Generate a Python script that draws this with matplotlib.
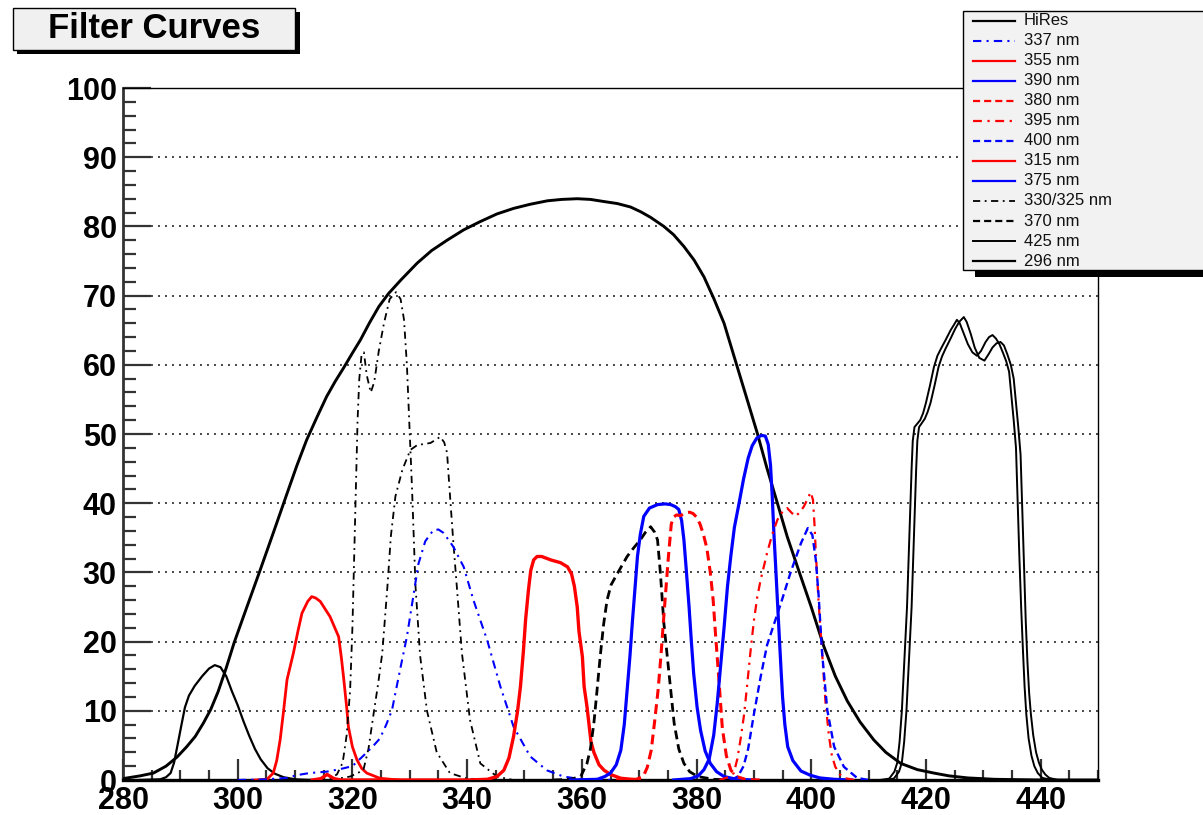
import numpy as np
import matplotlib
matplotlib.use('Agg')
import matplotlib.pyplot as plt
from matplotlib.lines import Line2D
from matplotlib.patches import Rectangle
from matplotlib.ticker import MultipleLocator

plt.rcParams['font.family'] = ['Liberation Sans', 'DejaVu Sans']

# ---------------- data (wavelength nm, transmission %) ----------------
hires_wl = [280, 283, 285.3, 287.5, 289.4, 291.1, 292.6, 294.0, 295.3, 296.6, 298.0, 299.4, 301.6, 303.9,
            306.2, 308.6, 310.3, 312.0, 313.8, 315.5, 317.0, 318.5, 320.0, 321.4, 323.0, 324.6, 326.3,
            328.5, 331.3, 333.8, 336.5, 339.4, 342.3, 345.2, 348.1, 351.0, 354.0, 356.5, 359.2, 361.5,
            363.8, 366.2, 368.5, 370.3, 372.0, 374.3, 376.0, 377.8, 379.6, 381.3, 383.0, 384.8, 387.1,
            389.0, 390.6, 392.3, 394.1, 395.8, 397.6, 400.0, 402.2, 404.2, 406.3, 408.5, 410.9, 413.0,
            415.6, 418.5, 421.4, 424.0, 427.3, 432.0, 440.0, 450.0]
hires_t = [0.2, 0.6, 1.0, 2.0, 3.3, 4.8, 6.3, 8.2, 10.2, 12.8, 16.2, 19.9, 25.0, 30.3,
           35.7, 41.4, 45.4, 49.1, 52.4, 55.4, 57.6, 59.6, 61.7, 63.6, 66.1, 68.4, 70.3,
           72.3, 74.7, 76.5, 78.0, 79.5, 80.7, 81.8, 82.6, 83.2, 83.7, 83.9, 84.0, 83.9,
           83.6, 83.3, 82.8, 82.1, 81.3, 80.0, 78.8, 77.1, 75.1, 72.7, 69.6, 66.0, 59.7,
           54.5, 50.1, 45.0, 40.0, 35.2, 30.8, 25.0, 19.3, 15.0, 11.4, 8.4, 5.8, 4.0,
           2.4, 1.5, 1.0, 0.6, 0.3, 0.1, 0.0, 0.0]

f296_wl = [283, 286.5, 287.5, 288.3, 288.9, 289.5, 290.2, 290.8, 291.5, 292.5, 293.8, 295.0, 296.0,
           297.0, 298.0, 299.0, 300.0, 301.0, 302.0, 303.0, 304.0, 305.2, 306.5, 308.0, 310.0, 313.0]
f296_t = [0, 0.1, 0.4, 1.0, 2.5, 5.0, 8.0, 10.5, 12.2, 13.6, 15.0, 16.1, 16.6,
          16.3, 15.0, 12.8, 10.8, 8.5, 6.4, 4.5, 3.0, 1.7, 0.9, 0.4, 0.1, 0]

f315_wl = [303, 305.1, 306.2, 306.8, 307.4, 308.0, 308.6, 309.7, 310.5, 311.2, 312.2, 312.9, 313.6,
           314.4, 316.1, 317.6, 318.1, 318.5, 319.0, 319.3, 320.0, 320.8, 321.6, 322.5, 324.8, 328]
f315_t = [0, 0.1, 1.0, 2.8, 5.8, 10.0, 14.5, 18.3, 21.5, 24.1, 25.8, 26.5, 26.3,
          25.8, 23.6, 20.7, 17.5, 14.5, 10.5, 7.7, 4.8, 2.9, 1.7, 1.0, 0.25, 0]

f325_wl = [314, 316.0, 317.3, 318.3, 319.0, 319.6, 320.0, 320.3, 320.6, 320.9, 321.2, 321.6, 322.0,
           322.5, 323.2, 323.8, 324.6, 325.5, 326.5, 327.6, 328.4, 329.0, 329.5, 329.9, 330.4,
           331.0, 331.8, 333.0, 334.7, 337.0, 340.0, 345.0]
f325_t = [0, 0.2, 0.8, 2.5, 6.5, 13.0, 22.0, 32.0, 42.0, 52.0, 58.0, 61.5, 61.8,
          58.5, 56.0, 57.5, 62.0, 66.0, 69.5, 70.5, 69.5, 66.5, 60.0, 52.0, 42.0,
          28.0, 18.0, 10.0, 4.0, 1.0, 0.2, 0]

f330_wl = [316, 319.6, 321.9, 322.8, 323.7, 324.5, 325.2, 326.1, 326.7, 327.5, 328.7, 330.1, 331.3,
           333.6, 334.6, 335.3, 336.0, 336.5, 337.1, 337.6, 338.2, 339.1, 340.5, 342.3, 345.2, 348]
f330_t = [0, 0.5, 1.4, 4.5, 9.6, 14.0, 18.3, 27.9, 35.2, 41.0, 44.8, 47.7, 48.4,
          48.7, 49.2, 49.6, 48.8, 47.3, 40.1, 34.3, 28.0, 18.3, 8.7, 2.4, 0.5, 0]

f337_wl = [300, 305.0, 308.6, 310.3, 312.5, 315.5, 318.0, 320.0, 321.9, 323.5, 324.8, 325.9, 326.9,
           328.3, 329.5, 330.7, 331.5, 332.7, 334.1, 335.0, 335.9, 337.6, 339.4, 341.1, 343.5,
           345.8, 348.1, 351.0, 353.9, 356.8, 360.0, 365.0]
f337_t = [0, 0.1, 0.3, 0.7, 1.0, 1.2, 1.6, 2.0, 3.5, 4.8, 6.0, 8.0, 10.1,
          15.9, 20.7, 27.0, 31.2, 34.5, 36.1, 36.2, 35.7, 33.7, 30.8, 26.0, 20.2,
          13.5, 7.7, 3.4, 1.4, 0.5, 0.1, 0]

f355_wl = [313, 314.5, 315.6, 316.8, 318, 340, 343.5, 345.2, 346.4, 347.3, 348.1, 348.8, 349.3, 349.8,
           350.2, 350.7, 351.1, 351.6, 352.2, 353.0, 354.6, 356.3, 357.5, 358.2, 358.7, 359.2,
           359.5, 360.1, 360.4, 360.9, 361.6, 362.1, 363.0, 363.9, 365.0, 366.8, 370]
f355_t = [0, 0.2, 0.8, 0.2, 0, 0, 0.1, 0.5, 1.4, 3.2, 6.3, 10.0, 13.5, 18.5,
          23.2, 27.5, 30.3, 31.8, 32.3, 32.3, 31.8, 31.4, 30.8, 29.8, 28.0, 25.0,
          21.5, 17.8, 13.5, 10.6, 5.5, 4.0, 2.2, 1.4, 0.8, 0.25, 0]

f370_wl = [355, 358, 359.8, 360.9, 361.5, 362.1, 362.6, 363.2, 363.8, 364.4, 365.1, 365.9, 367.0,
           367.9, 369.0, 370.2, 371.1, 372.0, 372.7, 373.2, 373.7, 374.3, 375.2, 376.1, 376.9,
           377.8, 378.8, 380.2, 383, 386]
f370_t = [0, 0.1, 0.5, 2.4, 4.5, 8.2, 12.5, 17.8, 22.5, 26.0, 28.2, 29.4, 31.0,
          32.3, 33.5, 34.7, 35.8, 36.6, 35.8, 34.7, 29.9, 22.7, 15.4, 8.2, 4.5,
          2.4, 1.2, 0.5, 0.1, 0]

f375_wl = [358, 362.7, 364.0, 365.0, 366.0, 366.8, 367.4, 367.9, 368.4, 368.8, 369.3, 369.7, 370.2,
           370.8, 371.8, 373.2, 374.5, 375.5, 376.3, 376.9, 377.4, 377.8, 378.2, 378.7, 379.1,
           379.5, 380.1, 380.7, 381.5, 382.4, 383.5, 384.8, 387, 390]
f375_t = [0, 0.1, 0.5, 1.0, 2.2, 4.3, 8.0, 13.0, 18.0, 22.7, 28.0, 32.3, 35.5,
          38.1, 39.3, 39.8, 39.9, 39.8, 39.5, 39.1, 37.5, 34.7, 30.5, 25.0, 20.0,
          15.4, 10.5, 7.2, 4.2, 2.4, 1.2, 0.5, 0.1, 0]

f380_wl = [366, 369.5, 370.7, 371.4, 372.1, 372.7, 373.3, 373.8, 374.2, 374.7, 375.1, 375.6, 376.0,
           376.5, 377.2, 378.0, 378.8, 379.4, 380.0, 380.6, 381.2, 381.8, 382.4, 382.9, 383.3,
           383.9, 384.5, 385.2, 386.0, 387.0, 388.5, 391]
f380_t = [0, 0.1, 0.5, 1.8, 4.3, 8.5, 13.0, 18.0, 22.6, 28.0, 32.3, 37.0, 38.0,
          38.3, 38.2, 38.6, 38.7, 38.5, 38.0, 37.0, 35.5, 33.5, 30.0, 26.0, 21.2,
          14.5, 7.5, 3.5, 1.4, 0.5, 0.1, 0]

f390_wl = [376, 379, 380.3, 381.3, 382.2, 383.0, 383.6, 384.2, 384.8, 385.4, 386.0, 386.6, 387.3,
           388.2, 389.0, 389.7, 390.5, 391.3, 392.0, 392.5, 392.9, 393.2, 393.5, 393.8, 394.1,
           394.4, 394.7, 395.0, 395.4, 395.9, 396.8, 398.2, 399.8, 401.5, 404, 407]
f390_t = [0, 0.2, 0.6, 1.5, 3.0, 6.5, 11.0, 16.5, 22.0, 28.0, 32.5, 36.5, 39.5,
          43.5, 46.5, 48.3, 49.4, 49.8, 49.7, 48.5, 45.5, 41.0, 35.5, 30.8, 26.0,
          21.2, 16.5, 12.0, 8.0, 4.8, 2.8, 1.3, 0.7, 0.3, 0.1, 0]

f395_wl = [384, 385.5, 386.5, 387.1, 387.7, 388.3, 388.8, 389.4, 390.0, 390.6, 391.2, 392.3, 393.2,
           394.1, 395.0, 395.8, 396.6, 397.3, 398.0, 398.7, 399.3, 399.9, 400.3, 400.6, 400.8,
           401.3, 401.9, 402.5, 403.1, 403.6, 404.2, 405.0, 405.7, 407.5]
f395_t = [0, 0.4, 1.0, 3.0, 6.0, 9.5, 13.5, 18.5, 23.0, 26.5, 29.0, 32.8, 35.5,
          37.6, 38.8, 39.3, 38.6, 38.1, 38.7, 39.5, 40.5, 41.6, 40.5, 36.5, 32.8,
          25.5, 18.3, 11.1, 6.3, 3.5, 1.9, 0.8, 0.3, 0]

f400_wl = [386, 387.2, 388.2, 389.0, 390.0, 391.2, 392.3, 393.5, 394.7, 396.4, 398.2, 399.4, 400.2,
           400.8, 401.3, 401.9, 402.8, 404.0, 405.7, 408.0, 410]
f400_t = [0, 0.5, 2.0, 4.5, 9.5, 15.0, 19.5, 22.5, 25.5, 30.0, 34.2, 36.4, 35.4,
          31.8, 26.5, 18.3, 10.1, 4.8, 1.9, 0.3, 0]

f425a_wl = [412, 413.6, 414.5, 415.0, 415.4, 415.8, 416.1, 416.4, 416.7, 416.9, 417.1, 417.3, 417.5,
            417.7, 418.0, 418.5, 419.0, 419.5, 420.0, 420.7, 421.4, 422.0, 422.6, 423.5, 424.3,
            424.9, 425.4, 425.9, 426.6, 427.3, 428.1, 428.9, 429.6, 430.4, 431.0, 431.6, 432.2,
            432.8, 433.4, 434.0, 434.5, 434.9, 435.3, 435.7, 436.0, 436.3, 436.6, 436.9, 437.2,
            437.5, 437.9, 438.4, 438.9, 439.5, 440.3, 442]
f425a_t = [0, 0.2, 1.2, 2.5, 5.5, 10, 15, 20, 25, 30, 35, 40, 45,
           49, 51, 51.5, 52.0, 53.0, 54.5, 57.0, 59.7, 61.3, 62.3, 63.7, 65.0,
           65.8, 66.5, 66.0, 64.5, 63.0, 61.8, 61.3, 62.0, 63.3, 64.0, 64.3, 63.8,
           63.0, 61.8, 60.5, 59.0, 55.5, 52.0, 48.0, 40.0, 32.0, 25.0, 19.0, 13.5,
           9.5, 6.0, 3.5, 2.0, 1.0, 0.3, 0]

f425b_wl = [413, 414.4, 415.3, 415.8, 416.2, 416.6, 416.9, 417.2, 417.5, 417.7, 417.9, 418.1, 418.3,
            418.5, 418.8, 419.3, 419.8, 420.3, 420.8, 421.5, 422.2, 422.8, 423.4, 424.3, 425.1,
            425.8, 426.6, 427.1, 427.8, 428.5, 429.3, 430.2, 430.9, 431.6, 432.3, 433.0, 433.6,
            434.2, 434.8, 435.3, 435.7, 436.1, 436.5, 436.8, 437.1, 437.4, 437.7, 438.0, 438.3,
            438.7, 439.2, 439.7, 440.2, 440.8, 441.5, 443]
f425b_t = [0, 0.2, 1.2, 2.5, 5.5, 10, 15, 20, 25, 30, 35, 40, 45,
           49, 51, 51.6, 52.2, 53.2, 54.5, 57.0, 59.7, 61.2, 62.3, 63.8, 65.2,
           66.2, 66.9, 66.2, 64.5, 62.5, 61.0, 60.6, 61.5, 62.5, 63.1, 63.3, 62.8,
           61.5, 60.0, 58.0, 54.5, 51.0, 47.0, 39.0, 31.0, 23.0, 17.0, 12.5, 9.5,
           6.5, 4.0, 2.5, 1.5, 0.8, 0.3, 0]

legend_labels = ['HiRes', '337 nm', '355 nm', '390 nm', '380 nm', '395 nm', '400 nm',
                 '315 nm', '375 nm', '330/325 nm', '370 nm', '425 nm', '296 nm']
x_ticks = [280, 300, 320, 340, 360, 380, 400, 420, 440]
y_ticks = [0, 10, 20, 30, 40, 50, 60, 70, 80, 90, 100]
title = 'Filter Curves'

# ---------------- styles ----------------
RED, BLUE, BLK = '#ff0000', '#0000ff', '#000000'
DASH = (0, (3.2, 1.8))
DASHDOT = (0, (4, 2.5, 1, 2.5))
sty = {
    'HiRes':      dict(color=BLK, lw=2.1, ls='-'),
    '337 nm':     dict(color=BLUE, lw=1.5, ls=DASHDOT),
    '355 nm':     dict(color=RED, lw=2.4, ls='-'),
    '390 nm':     dict(color=BLUE, lw=2.3, ls='-'),
    '380 nm':     dict(color=RED, lw=2.2, ls=DASH),
    '395 nm':     dict(color=RED, lw=1.6, ls=DASHDOT),
    '400 nm':     dict(color=BLUE, lw=1.7, ls=DASH),
    '315 nm':     dict(color=RED, lw=2.0, ls='-'),
    '375 nm':     dict(color=BLUE, lw=2.3, ls='-'),
    '330/325 nm': dict(color=BLK, lw=1.3, ls=DASHDOT),
    '370 nm':     dict(color=BLK, lw=2.0, ls=DASH),
    '425 nm':     dict(color=BLK, lw=1.4, ls='-'),
    '296 nm':     dict(color=BLK, lw=1.6, ls='-'),
}

W, H = 1203, 815
fig = plt.figure(figsize=(W / 100, H / 100), dpi=100)
fig.patch.set_facecolor('white')
ax = fig.add_axes([123 / W, 1 - 780 / H, (1098 - 123) / W, (780 - 88) / H])

series = [
    ('HiRes', hires_wl, hires_t),
    ('296 nm', f296_wl, f296_t),
    ('315 nm', f315_wl, f315_t),
    ('330/325 nm', f325_wl, f325_t),
    ('330/325 nm', f330_wl, f330_t),
    ('337 nm', f337_wl, f337_t),
    ('355 nm', f355_wl, f355_t),
    ('370 nm', f370_wl, f370_t),
    ('375 nm', f375_wl, f375_t),
    ('380 nm', f380_wl, f380_t),
    ('390 nm', f390_wl, f390_t),
    ('395 nm', f395_wl, f395_t),
    ('400 nm', f400_wl, f400_t),
    ('425 nm', f425a_wl, f425a_t),
    ('425 nm', f425b_wl, f425b_t),
]
for name, wl, t in series:
    s = sty[name]
    ax.plot(wl, t, color=s['color'], lw=s['lw'], linestyle=s['ls'], zorder=3,
            solid_joinstyle='round', dash_capstyle='butt')

ax.set_xlim(280, 450)
ax.set_ylim(0, 100)
ax.set_xticks(x_ticks)
ax.set_yticks(y_ticks)
ax.xaxis.set_minor_locator(MultipleLocator(5))
ax.yaxis.set_minor_locator(MultipleLocator(2))
ax.tick_params(axis='both', which='both', direction='in', color='#333333',
               top=False, right=False)
ax.tick_params(axis='y', which='major', length=20, width=1.6, labelsize=22, pad=4.5)
ax.tick_params(axis='y', which='minor', length=9.5, width=1.6)
ax.tick_params(axis='x', which='major', length=15, width=1.6, labelsize=22, pad=4)
ax.tick_params(axis='x', which='minor', length=7.5, width=1.6)
for lab in ax.get_xticklabels() + ax.get_yticklabels():
    lab.set_fontweight('bold')
ax.yaxis.grid(True, which='major', linestyle=(0, (1, 2.6)), color='#444444', lw=1.4, zorder=1)
ax.set_axisbelow(True)
for side in ['top', 'right']:
    ax.spines[side].set_linewidth(1.0)
ax.spines['left'].set_linewidth(2.0)
ax.spines['left'].set_color('#333333')
ax.spines['bottom'].set_linewidth(2.4)

# ---------------- title box ----------------
def fx(px):
    return px / W

def fy(py):
    return 1 - py / H

fig.add_artist(Rectangle((fx(17), fy(54)), fx(300) - fx(17), fy(12) - fy(54),
                         transform=fig.transFigure, facecolor='black', edgecolor='none', zorder=5))
fig.add_artist(Rectangle((fx(13), fy(50)), fx(295) - fx(13), fy(8) - fy(50),
                         transform=fig.transFigure, facecolor='#f0f0f0', edgecolor='black',
                         lw=1.0, zorder=6))
fig.text(fx(154), fy(29), title, fontsize=25, fontweight='bold', ha='center', va='center', zorder=7)

# ---------------- legend box ----------------
fig.add_artist(Rectangle((fx(975), fy(277)), fx(1215) - fx(975), fy(11) - fy(277),
                         transform=fig.transFigure, facecolor='black', edgecolor='none', zorder=5))
fig.add_artist(Rectangle((fx(963), fy(270)), fx(1210) - fx(963), fy(11) - fy(270),
                         transform=fig.transFigure, facecolor='#f2f2f2', edgecolor='black',
                         lw=1.0, zorder=6))
for i, lab in enumerate(legend_labels):
    y = fy(20.5 + i * 20.05)
    s = sty[lab]
    lw = min(s['lw'], 1.6)
    fig.add_artist(Line2D([fx(973), fx(1015)], [y, y], transform=fig.transFigure,
                          color=s['color'], lw=lw, linestyle=s['ls'], zorder=7))
    fig.text(fx(1024), y, lab, fontsize=12, ha='left', va='center', zorder=7, color='#111111')

fig.savefig('out.png', dpi=100)
